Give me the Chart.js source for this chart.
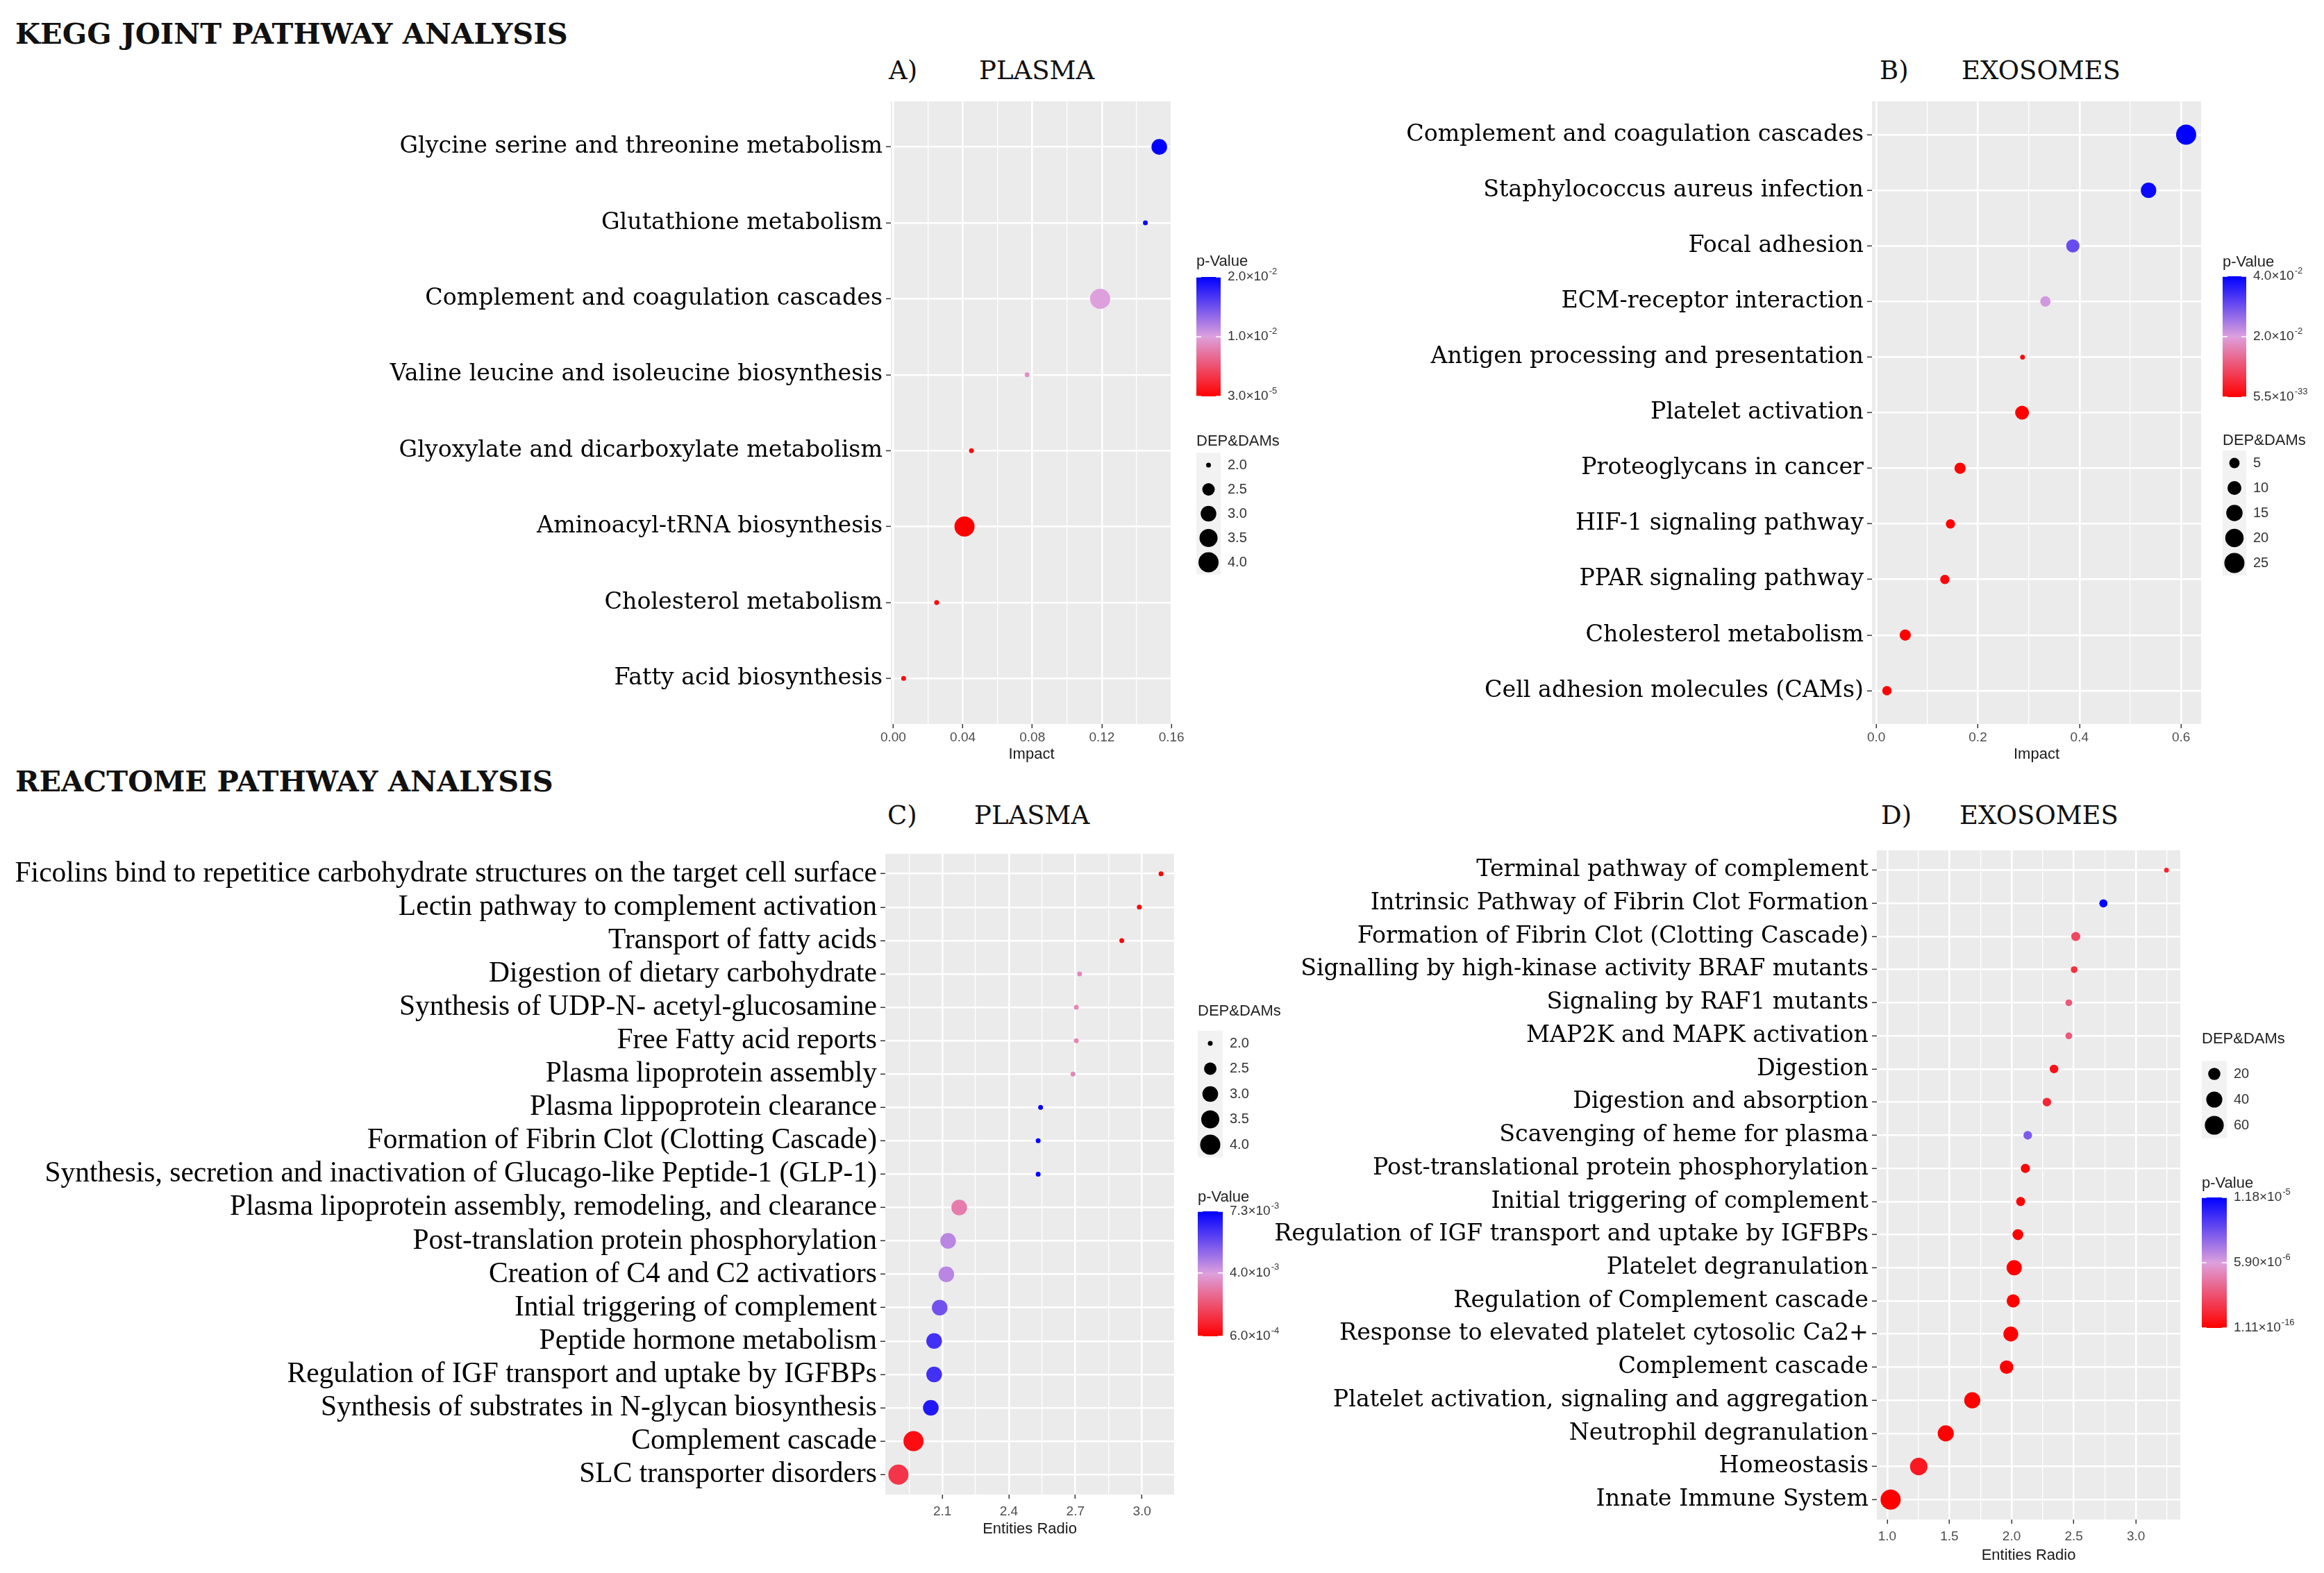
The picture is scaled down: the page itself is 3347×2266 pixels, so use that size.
<!DOCTYPE html>
<html>
<head>
<meta charset="utf-8">
<script src="https://cdn.jsdelivr.net/npm/chart.js@4.4.0/dist/chart.umd.min.js"></script>
<style>
body { margin: 0; background: #fff; width: 3347px; height: 2266px; position: relative; overflow: hidden; }
.box { position: absolute; }
.hd { position: absolute; font-family: "DejaVu Serif"; white-space: nowrap; color: #111; line-height: 1; }
</style>
</head>
<body>
<div class="hd" style="left:22px;top:28px;font-size:41.5px;font-weight:bold">KEGG JOINT PATHWAY ANALYSIS</div>
<div class="hd" style="left:22px;top:1105px;font-size:41.5px;font-weight:bold">REACTOME PATHWAY ANALYSIS</div>
<div class="hd" style="left:1280px;top:83px;font-size:37px">A)</div>
<div class="hd" style="left:1410px;top:83px;font-size:37px">PLASMA</div>
<div class="hd" style="left:2707px;top:83px;font-size:37px">B)</div>
<div class="hd" style="left:2825px;top:83px;font-size:37px">EXOSOMES</div>
<div class="hd" style="left:1278px;top:1156px;font-size:37px">C)</div>
<div class="hd" style="left:1403px;top:1156px;font-size:37px">PLASMA</div>
<div class="hd" style="left:2709px;top:1156px;font-size:37px">D)</div>
<div class="hd" style="left:2822px;top:1156px;font-size:37px">EXOSOMES</div>

<div class="box" id="boxA" style="left:0;top:120px;width:1920px;height:1000px"><canvas id="chartA"></canvas></div>
<div class="box" id="boxB" style="left:1920px;top:120px;width:1427px;height:1000px"><canvas id="chartB"></canvas></div>
<div class="box" id="boxC" style="left:0;top:1200px;width:1920px;height:1020px"><canvas id="chartC"></canvas></div>
<div class="box" id="boxD" style="left:1800px;top:1200px;width:1547px;height:1060px"><canvas id="chartD"></canvas></div>

<script>
// A) KEGG - plasma
var keggPlasmaPaths = ['Glycine serine and threonine metabolism', 'Glutathione metabolism',
  'Complement and coagulation cascades', 'Valine leucine and isoleucine biosynthesis',
  'Glyoxylate and dicarboxylate metabolism', 'Aminoacyl-tRNA biosynthesis',
  'Cholesterol metabolism', 'Fatty acid biosynthesis'];
var keggPlasmaImpact = [0.153, 0.145, 0.119, 0.077, 0.045, 0.041, 0.025, 0.006];
var keggPlasmaHits = [3, 2, 4, 2, 2, 4, 2, 2];
var keggPlasmaP = [2.0e-2, 1.95e-2, 1.0e-2, 9.0e-3, 5.0e-4, 3.0e-5, 4.0e-4, 6.0e-4];
var keggPlasmaTicks = [0, 0.04, 0.08, 0.12, 0.16];
var keggPlasmaTickLabels = ['0.00', '0.04', '0.08', '0.12', '0.16'];
var keggPlasmaPBreaks = [3.0e-5, 1.0e-2, 2.0e-2];
var keggPlasmaPLabels = ['3.0×10^-5', '1.0×10^-2', '2.0×10^-2'];
var keggPlasmaSizeBreaks = [2.0, 2.5, 3.0, 3.5, 4.0];
var keggPlasmaSizeLabels = ['2.0', '2.5', '3.0', '3.5', '4.0'];

// B) KEGG - exosomes
var keggExoPaths = ['Complement and coagulation cascades', 'Staphylococcus aureus infection',
  'Focal adhesion', 'ECM-receptor interaction', 'Antigen processing and presentation',
  'Platelet activation', 'Proteoglycans in cancer', 'HIF-1 signaling pathway',
  'PPAR signaling pathway', 'Cholesterol metabolism', 'Cell adhesion molecules (CAMs)'];
var keggExoImpact = [0.610, 0.536, 0.387, 0.333, 0.288, 0.287, 0.165, 0.146, 0.135, 0.057, 0.021];
var keggExoHits = [25, 13, 9, 5, 2, 10, 6, 4, 4, 6, 4];
var keggExoP = [4.0e-2, 3.9e-2, 3.05e-2, 2.1e-2, 1.5e-3, 1.0e-5, 2.0e-4, 5.0e-4, 8.0e-4, 1.0e-6, 5.5e-33];
var keggExoTicks = [0, 0.2, 0.4, 0.6];
var keggExoTickLabels = ['0.0', '0.2', '0.4', '0.6'];
var keggExoPBreaks = [5.5e-33, 2.0e-2, 4.0e-2];
var keggExoPLabels = ['5.5×10^-33', '2.0×10^-2', '4.0×10^-2'];
var keggExoSizeBreaks = [5, 10, 15, 20, 25];
var keggExoSizeLabels = ['5', '10', '15', '20', '25'];

// C) Reactome - plasma
var reacPlasmaPaths = ['Ficolins bind to repetitice carbohydrate structures on the target cell surface',
  'Lectin pathway to complement activation', 'Transport of fatty acids',
  'Digestion of dietary carbohydrate', 'Synthesis of UDP-N- acetyl-glucosamine',
  'Free Fatty acid reports', 'Plasma lipoprotein assembly', 'Plasma lippoprotein clearance',
  'Formation of Fibrin Clot (Clotting Cascade)',
  'Synthesis, secretion and inactivation of Glucago-like Peptide-1 (GLP-1)',
  'Plasma lipoprotein assembly, remodeling, and clearance', 'Post-translation protein phosphorylation',
  'Creation of C4 and C2 activatiors', 'Intial triggering of complement', 'Peptide hormone metabolism',
  'Regulation of IGF transport and uptake by IGFBPs', 'Synthesis of substrates in N-glycan biosynthesis',
  'Complement cascade', 'SLC transporter disorders'];
var reacPlasmaRatio = [3.086, 2.988, 2.909, 2.719, 2.704, 2.704, 2.689, 2.543, 2.532, 2.532,
  2.176, 2.126, 2.118, 2.088, 2.063, 2.063, 2.048, 1.970, 1.902];
var reacPlasmaHits = [2, 2, 2, 2, 2, 2, 2, 2, 2, 2, 3, 3, 3, 3, 3, 3, 3, 4, 4];
var reacPlasmaP = [6.5e-4, 7.0e-4, 6.0e-4, 3.4e-3, 3.4e-3, 3.4e-3, 3.4e-3, 7.3e-3, 7.3e-3, 7.3e-3,
  3.2e-3, 4.5e-3, 4.5e-3, 5.6e-3, 6.3e-3, 6.3e-3, 6.8e-3, 8.7e-4, 1.7e-3];
var reacPlasmaTicks = [2.1, 2.4, 2.7, 3.0];
var reacPlasmaTickLabels = ['2.1', '2.4', '2.7', '3.0'];
var reacPlasmaPBreaks = [6.0e-4, 4.0e-3, 7.3e-3];
var reacPlasmaPLabels = ['6.0×10^-4', '4.0×10^-3', '7.3×10^-3'];
var reacPlasmaSizeBreaks = [2.0, 2.5, 3.0, 3.5, 4.0];
var reacPlasmaSizeLabels = ['2.0', '2.5', '3.0', '3.5', '4.0'];

// D) Reactome - exosomes
var reacExoPaths = ['Terminal pathway of complement', 'Intrinsic Pathway of Fibrin Clot Formation',
  'Formation of Fibrin Clot (Clotting Cascade)', 'Signalling by high-kinase activity BRAF mutants',
  'Signaling by RAF1 mutants', 'MAP2K and MAPK activation', 'Digestion', 'Digestion and absorption',
  'Scavenging of heme for plasma', 'Post-translational protein phosphorylation',
  'Initial triggering of complement', 'Regulation of IGF transport and uptake by IGFBPs',
  'Platelet degranulation', 'Regulation of Complement cascade',
  'Response to elevated platelet cytosolic Ca2+', 'Complement cascade',
  'Platelet activation, signaling and aggregation', 'Neutrophil degranulation', 'Homeostasis',
  'Innate Immune System'];
var reacExoRatio = [3.245, 2.738, 2.516, 2.503, 2.460, 2.460, 2.341, 2.284, 2.130, 2.111,
  2.073, 2.051, 2.021, 2.013, 1.994, 1.960, 1.684, 1.471, 1.254, 1.028];
var reacExoHits = [5, 8, 10, 6, 6, 6, 9, 9, 9, 10, 10, 15, 35, 24, 33, 26, 40, 40, 49, 70];
var reacExoP = [1.2e-6, 1.18e-5, 2.6e-6, 1.8e-6, 3.2e-6, 3.2e-6, 6.0e-7, 1.4e-6, 8.5e-6, 2.0e-7,
  1.0e-7, 3.0e-8, 1.0e-9, 5.0e-9, 2.0e-10, 1.0e-10, 1.0e-12, 1.0e-13, 9.0e-7, 1.11e-16];
var reacExoTicks = [1.0, 1.5, 2.0, 2.5, 3.0];
var reacExoTickLabels = ['1.0', '1.5', '2.0', '2.5', '3.0'];
var reacExoPBreaks = [1.11e-16, 5.90e-6, 1.18e-5];
var reacExoPLabels = ['1.11×10^-16', '5.90×10^-6', '1.18×10^-5'];
var reacExoSizeBreaks = [20, 40, 60];
var reacExoSizeLabels = ['20', '40', '60'];

var DOT_MIN = 7, DOT_MAX = 29;
var SANS = '"Liberation Sans", Arial, sans-serif';
var RED = [255, 0, 0], PLUM = [221, 160, 221], BLUE = [0, 0, 255];

function dotRadius(v, lo, hi) {
  var t = hi > lo ? (v - lo) / (hi - lo) : 1;
  return (DOT_MIN + (DOT_MAX - DOT_MIN) * Math.sqrt(t)) / 2;
}

function mix(a, b, t) {
  return 'rgb(' + Math.round(a[0] + (b[0] - a[0]) * t) + ',' + Math.round(a[1] + (b[1] - a[1]) * t) + ',' + Math.round(a[2] + (b[2] - a[2]) * t) + ')';
}

function pColor(p, lo, hi) {
  var t = Math.max(0, Math.min(1, (p - lo) / (hi - lo)));
  return t < 0.5 ? mix(RED, PLUM, t * 2) : mix(PLUM, BLUE, (t - 0.5) * 2);
}

function drawSci(c, text, x, y) {
  var parts = text.split('^');
  c.font = '19px ' + SANS;
  c.textBaseline = 'middle';
  c.textAlign = 'left';
  c.fillText(parts[0], x, y);
  if (parts[1]) {
    var w = c.measureText(parts[0]).width;
    c.font = '13px ' + SANS;
    c.fillText(parts[1], x + w + 1, y - 8);
  }
}

var panelBg = {
  id: 'panelBg',
  beforeDraw: function (chart) {
    var a = chart.chartArea, c = chart.ctx;
    c.save();
    c.fillStyle = '#EBEBEB';
    c.fillRect(a.left, a.top, a.right - a.left, a.bottom - a.top);
    c.restore();
  }
};

function makePanel(p) {
  var n = p.paths.length;
  var xLo = Math.min.apply(null, p.xs), xHi = Math.max.apply(null, p.xs);
  var xPad = (xHi - xLo) * 0.05;
  var xMin = xLo - xPad, xMax = xHi + xPad;
  var sLo = Math.min.apply(null, p.hits), sHi = Math.max.apply(null, p.hits);
  var pLo = Math.min.apply(null, p.pv), pHi = Math.max.apply(null, p.pv);
  var box = p.box, plot = p.plot, L = p.legend;

  var points = p.paths.map(function (name, i) {
    return { x: p.xs[i], y: i + 1, r: dotRadius(p.hits[i], sLo, sHi) };
  });
  var colors = p.pv.map(function (v) { return pColor(v, pLo, pHi); });

  // major ticks with a minor line halfway between
  var step = p.ticks[1] - p.ticks[0];
  var xTicks = [];
  p.ticks.forEach(function (t, i) { xTicks.push({ value: t, label: p.tickLabels[i] }); });
  for (var k = -1; k < p.ticks.length; k++) {
    var m = p.ticks[0] + (k + 0.5) * step;
    if (m > xMin && m < xMax) xTicks.push({ value: m, minor: true });
  }
  xTicks.sort(function (a, b) { return a.value - b.value; });

  var legendPlugin = {
    id: 'keyLegend',
    afterDraw: function (chart) {
      var c = chart.ctx, ox = box.left, oy = box.top;
      c.save();
      c.fillStyle = '#222';
      c.font = '22px ' + SANS;
      c.textBaseline = 'middle';
      c.textAlign = 'left';
      c.fillText('p-Value', L.barX - ox, L.pTitleY - oy);
      c.fillText('DEP&DAMs', L.barX - ox, L.sTitleY - oy);

      // colour bar
      var g = c.createLinearGradient(0, L.barBot - oy, 0, L.barTop - oy);
      g.addColorStop(0, mix(RED, RED, 0));
      g.addColorStop(0.5, mix(PLUM, PLUM, 0));
      g.addColorStop(1, mix(BLUE, BLUE, 0));
      c.fillStyle = g;
      c.fillRect(L.barX - ox, L.barTop - oy, L.barW, L.barBot - L.barTop);
      p.pBreaks.forEach(function (b, i) {
        var y = L.barBot - (b - pLo) / (pHi - pLo) * (L.barBot - L.barTop) - oy;
        c.strokeStyle = '#fff';
        c.lineWidth = 1.5;
        c.beginPath();
        c.moveTo(L.barX - ox, y); c.lineTo(L.barX - ox + 7, y);
        c.moveTo(L.barX - ox + L.barW - 7, y); c.lineTo(L.barX - ox + L.barW, y);
        c.stroke();
        c.fillStyle = '#333';
        drawSci(c, p.pLabels[i], L.barX + L.barW + 10 - ox, y);
      });

      // size keys
      var ks = p.sizeBreaks.length;
      c.fillStyle = '#F2F2F2';
      c.fillRect(L.barX - ox, L.keyTop - L.keyStep / 2 - oy, L.barW, ks * L.keyStep);
      p.sizeBreaks.forEach(function (s, i) {
        var y = L.keyTop + i * L.keyStep - oy;
        c.fillStyle = '#000';
        c.beginPath();
        c.arc(L.barX + L.barW / 2 - ox, y, dotRadius(s, sLo, sHi), 0, Math.PI * 2);
        c.fill();
        c.fillStyle = '#333';
        c.font = '20px ' + SANS;
        c.textBaseline = 'middle';
        c.fillText(p.sizeLabels[i], L.barX + L.barW + 10 - ox, y);
      });
      c.restore();
    }
  };

  new Chart(document.getElementById(p.id), {
    type: 'bubble',
    data: {
      datasets: [{ data: points, backgroundColor: colors, borderWidth: 0, hoverBorderWidth: 0, hoverRadius: 0 }]
    },
    options: {
      responsive: true,
      maintainAspectRatio: false,
      animation: false,
      events: [],
      layout: {
        padding: {
          left: 0,
          top: plot.top - box.top,
          right: box.left + box.width - plot.right,
          bottom: box.top + box.height - plot.bottom - p.xAxisH
        }
      },
      plugins: { legend: { display: false }, tooltip: { enabled: false } },
      scales: {
        x: {
          type: 'linear',
          min: xMin,
          max: xMax,
          afterBuildTicks: function (s) { s.ticks = xTicks.map(function (t) { return Object.assign({}, t); }); },
          afterFit: function (s) { s.height = p.xAxisH; },
          ticks: {
            autoSkip: false,
            maxRotation: 0,
            padding: p.xTickPad,
            color: '#4D4D4D',
            font: { family: SANS, size: 19 },
            callback: function (v, i, ticks) { return ticks[i].minor ? '' : ticks[i].label; }
          },
          grid: {
            color: '#fff',
            lineWidth: function (ctx) { return ctx.tick && ctx.tick.minor ? 1.3 : 2.6; },
            tickColor: function (ctx) { return ctx.tick && ctx.tick.minor ? 'rgba(0,0,0,0)' : '#333'; },
            tickWidth: 1.5,
            tickLength: 6
          },
          border: { display: false },
          title: { display: true, text: p.xTitle, color: '#1a1a1a', font: { family: SANS, size: 22 }, padding: 0 }
        },
        y: {
          type: 'linear',
          reverse: true,
          min: 0.4,
          max: n + 0.6,
          afterBuildTicks: function (s) { s.ticks = p.paths.map(function (name, i) { return { value: i + 1 }; }); },
          afterFit: function (s) { s.width = plot.left - box.left; },
          ticks: {
            autoSkip: false,
            padding: 5,
            color: '#000',
            font: { family: p.labelFont, size: p.labelSize },
            callback: function (v, i) { return p.paths[i]; }
          },
          grid: { color: '#fff', lineWidth: 2.6, tickColor: '#333', tickWidth: 1.5, tickLength: 7 },
          border: { display: false }
        }
      }
    },
    plugins: [panelBg, legendPlugin]
  });
}

makePanel({
  id: 'chartA', paths: keggPlasmaPaths, xs: keggPlasmaImpact, hits: keggPlasmaHits, pv: keggPlasmaP,
  ticks: keggPlasmaTicks, tickLabels: keggPlasmaTickLabels, xTitle: 'Impact',
  pBreaks: keggPlasmaPBreaks, pLabels: keggPlasmaPLabels, sizeBreaks: keggPlasmaSizeBreaks, sizeLabels: keggPlasmaSizeLabels,
  labelFont: '"DejaVu Serif"', labelSize: 33.3, xAxisH: 57, xTickPad: 2,
  box: { left: 0, top: 120, width: 1920, height: 1000 },
  plot: { left: 1283, top: 146, right: 1688, bottom: 1043 },
  legend: { barX: 1723, barW: 35, barTop: 399, barBot: 571, pTitleY: 377, sTitleY: 636, keyTop: 670, keyStep: 35 }
});

makePanel({
  id: 'chartB', paths: keggExoPaths, xs: keggExoImpact, hits: keggExoHits, pv: keggExoP,
  ticks: keggExoTicks, tickLabels: keggExoTickLabels, xTitle: 'Impact',
  pBreaks: keggExoPBreaks, pLabels: keggExoPLabels, sizeBreaks: keggExoSizeBreaks, sizeLabels: keggExoSizeLabels,
  labelFont: '"DejaVu Serif"', labelSize: 33.3, xAxisH: 57, xTickPad: 2,
  box: { left: 1920, top: 120, width: 1427, height: 1000 },
  plot: { left: 2696, top: 146, right: 3170, bottom: 1043 },
  legend: { barX: 3201, barW: 34, barTop: 398, barBot: 572, pTitleY: 378, sTitleY: 635, keyTop: 667, keyStep: 36 }
});

makePanel({
  id: 'chartC', paths: reacPlasmaPaths, xs: reacPlasmaRatio, hits: reacPlasmaHits, pv: reacPlasmaP,
  ticks: reacPlasmaTicks, tickLabels: reacPlasmaTickLabels, xTitle: 'Entities Radio',
  pBreaks: reacPlasmaPBreaks, pLabels: reacPlasmaPLabels, sizeBreaks: reacPlasmaSizeBreaks, sizeLabels: reacPlasmaSizeLabels,
  labelFont: '"Liberation Serif"', labelSize: 41.5, xAxisH: 63, xTickPad: 7,
  box: { left: 0, top: 1200, width: 1920, height: 1020 },
  plot: { left: 1275, top: 1224, right: 1691, bottom: 2153 },
  legend: { barX: 1725, barW: 36, barTop: 1745, barBot: 1925, pTitleY: 1725, sTitleY: 1457, keyTop: 1503, keyStep: 36.5 }
});

makePanel({
  id: 'chartD', paths: reacExoPaths, xs: reacExoRatio, hits: reacExoHits, pv: reacExoP,
  ticks: reacExoTicks, tickLabels: reacExoTickLabels, xTitle: 'Entities Radio',
  pBreaks: reacExoPBreaks, pLabels: reacExoPLabels, sizeBreaks: reacExoSizeBreaks, sizeLabels: reacExoSizeLabels,
  labelFont: '"DejaVu Serif"', labelSize: 33.3, xAxisH: 65, xTickPad: 7,
  box: { left: 1800, top: 1200, width: 1547, height: 1060 },
  plot: { left: 2703, top: 1219, right: 3140, bottom: 2189 },
  legend: { barX: 3171, barW: 36, barTop: 1725, barBot: 1913, pTitleY: 1705, sTitleY: 1497, keyTop: 1547, keyStep: 37 }
});
</script>
</body>
</html>
